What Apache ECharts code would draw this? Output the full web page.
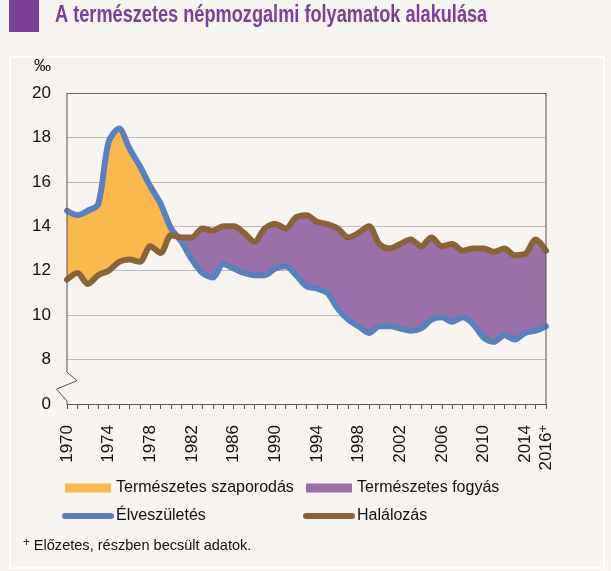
<!DOCTYPE html>
<html><head><meta charset="utf-8">
<script src="https://cdn.jsdelivr.net/npm/echarts@6/dist/echarts.min.js"></script>
<style>html,body{margin:0;padding:0;background:#F7F4F1}#c{width:611px;height:571px}</style>
</head><body><div id="c"></div>
<script>
const years = ['1970','1971','1972','1973','1974','1975','1976','1977','1978','1979',
  '1980','1981','1982','1983','1984','1985','1986','1987','1988','1989',
  '1990','1991','1992','1993','1994','1995','1996','1997','1998','1999',
  '2000','2001','2002','2003','2004','2005','2006','2007','2008','2009',
  '2010','2011','2012','2013','2014','2015','2016'];
// Élveszületés (live births per 1000)
const births = [14.7,14.5,14.7,15.0,17.8,18.4,17.5,16.7,15.8,15.0,
  13.9,13.3,12.5,11.9,11.7,12.3,12.1,11.9,11.8,11.8,
  12.1,12.2,11.8,11.3,11.2,11.0,10.3,9.8,9.5,9.2,
  9.5,9.5,9.4,9.3,9.4,9.8,9.9,9.7,9.9,9.6,
  9.0,8.8,9.1,8.9,9.2,9.3,9.5];
// Halálozás (deaths per 1000)
const deaths = [11.6,11.9,11.4,11.8,12.0,12.4,12.5,12.4,13.1,12.8,
  13.6,13.5,13.5,13.9,13.8,14.0,14.0,13.7,13.3,13.9,
  14.1,13.9,14.4,14.5,14.2,14.1,13.9,13.5,13.7,14.0,
  13.2,13.0,13.2,13.4,13.1,13.5,13.1,13.2,12.9,13.0,
  13.0,12.85,13.0,12.7,12.75,13.4,12.9];
const yTickLabels = {6:'0'};

const FONT = "'Liberation Sans Narrow','Arial Narrow','Liberation Sans',Arial,sans-serif";
const C_ORANGE = '#FBB84E', C_PURPLE = '#9A70A8', C_BLUE = '#5A80BE', C_BROWN = '#8B6339';
const SM = 0.3;

const lower = births.map((b,i)=>Math.min(b,deaths[i]));
const growth = births.map((b,i)=>+Math.max(b-deaths[i],0).toFixed(3));
const decline = births.map((b,i)=>+Math.max(deaths[i]-b,0).toFixed(3));

const legendCommon = {orient:'vertical', top:480, padding:0, itemWidth:46, itemHeight:9, itemGap:12,
  selectedMode:false, textStyle:{fontFamily:FONT, fontSize:16, color:'#111'},
  lineStyle:{width:6, cap:'round'}};

const chart = echarts.init(document.getElementById('c'), null, {renderer:'canvas'});
chart.setOption({
  backgroundColor:'#F7F4F1',
  animation:false,
  textStyle:{fontFamily:FONT},
  grid:{left:67, right:65, top:93, bottom:167},
  legend:[
    Object.assign({left:62, data:[
      {name:'Természetes szaporodás', icon:'rect', itemStyle:{color:C_ORANGE, opacity:1}},
      {name:'Élveszületés', itemStyle:{opacity:0}}]}, legendCommon),
    Object.assign({left:303, data:[
      {name:'Természetes fogyás', icon:'rect', itemStyle:{color:C_PURPLE, opacity:1}},
      {name:'Halálozás', itemStyle:{opacity:0}}]}, legendCommon)
  ],
  xAxis:{type:'category', data:years, boundaryGap:false,
    axisLine:{lineStyle:{color:'#555', width:1}},
    axisTick:{show:true, interval:0, length:5, lineStyle:{color:'#555'}},
    axisLabel:{interval:(i)=>i%4===0||i===years.length-1, rotate:90, margin:21,
      fontFamily:FONT, fontSize:17, color:'#111',
      formatter:(v,i)=> i===years.length-1 ? v+'{s|+}' : v,
      rich:{s:{fontSize:13, fontFamily:FONT, color:'#111', padding:[0,0,6,0]}}},
    splitLine:{show:false}},
  yAxis:{type:'value', min:6, max:20, interval:2,
    name:'‰', nameLocation:'end', nameGap:18,
    nameTextStyle:{fontFamily:FONT, fontSize:17, color:'#111', align:'right', padding:[0,16,0,0]},
    axisLine:{show:false}, axisTick:{show:false},
    axisLabel:{fontFamily:FONT, fontSize:17, color:'#111', margin:16,
      formatter:(v)=> yTickLabels[v]!==undefined ? yTickLabels[v] : String(v)},
    splitLine:{lineStyle:{color:['#BDBDBD','#BDBDBD','#BDBDBD','#BDBDBD','#BDBDBD','#BDBDBD','#BDBDBD','#666'], width:1}}},
  series:[
    {type:'line', stack:'f', data:lower, symbol:'none', smooth:SM, lineStyle:{width:0}, silent:true, z:1},
    {name:'Természetes szaporodás', type:'line', stack:'f', data:growth, symbol:'none', smooth:SM,
     lineStyle:{width:0, color:C_ORANGE}, itemStyle:{color:C_ORANGE}, areaStyle:{color:C_ORANGE, opacity:1}, z:1},
    {name:'Természetes fogyás', type:'line', stack:'f', data:decline, symbol:'none', smooth:SM,
     lineStyle:{width:0, color:C_PURPLE}, itemStyle:{color:C_PURPLE}, areaStyle:{color:C_PURPLE, opacity:1}, z:1},
    {name:'Élveszületés', type:'line', data:births, symbol:'none', smooth:SM,
     lineStyle:{width:6, color:C_BLUE, cap:'round', join:'round'}, itemStyle:{color:C_BLUE}, z:3},
    {name:'Halálozás', type:'line', data:deaths, symbol:'none', smooth:SM,
     lineStyle:{width:6, color:C_BROWN, cap:'round', join:'round'}, itemStyle:{color:C_BROWN}, z:4}
  ]
});

const px = (i,v)=>chart.convertToPixel({gridIndex:0},[i,v]);
const [xL,yTop] = px(0,20);
const [xR,yBot] = px(years.length-1,6);
const yA = px(0,7.43)[1], yZ1 = px(0,7.05)[1], yZ2 = px(0,6.67)[1], yZ3 = px(0,6.13)[1];
chart.setOption({graphic:[
  {type:'rect', z:-10, shape:{x:10, y:57, width:594, height:511}, style:{fill:null, stroke:'#FFFFFF', lineWidth:2}},
  {type:'rect', shape:{x:9, y:0, width:30, height:32}, style:{fill:'#7B3F98'}},
  {type:'text', x:55, y:4, scaleX:0.79, style:{text:'A természetes népmozgalmi folyamatok alakulása',
    font:'bold 23px '+FONT, fill:'#7B3F98'}},
  {type:'polyline', z:10, shape:{points:[[xL,yTop],[xL,yA],[xL+10,yZ1],[xL-10.5,yZ2],[xL,yZ3],[xL,yBot]]},
   style:{stroke:'#555', lineWidth:1, fill:null}},
  {type:'line', z:10, shape:{x1:xR,y1:yTop,x2:xR,y2:yBot}, style:{stroke:'#555', lineWidth:1}},
  {type:'text', x:23, y:537, scaleX:0.97, style:{text:'{s|+} Előzetes, részben becsült adatok.',
    font:'15px '+FONT, fill:'#111',
    rich:{s:{fontSize:12, fontFamily:FONT, fill:'#111', padding:[0,0,6,0]}}}}
]});
</script></body></html>
